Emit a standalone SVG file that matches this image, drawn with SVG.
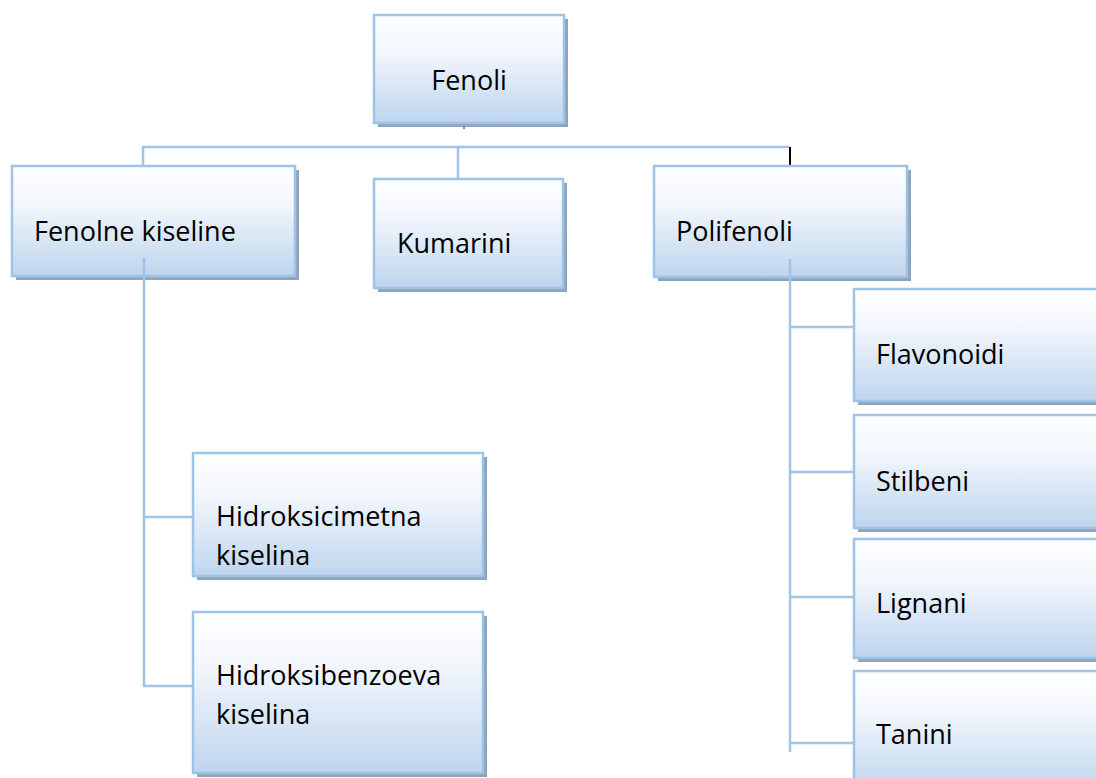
<svg xmlns="http://www.w3.org/2000/svg" width="1096" height="778" viewBox="0 0 1096 778">
<defs>
<linearGradient id="g" x1="0" y1="0" x2="0" y2="1">
<stop offset="0" stop-color="#ffffff"/>
<stop offset="0.35" stop-color="#f2f6fc"/>
<stop offset="1" stop-color="#bed5ee"/>
</linearGradient>
<style>
.sh{fill:#8fa4bb}
.bx{fill:url(#g);stroke:#9dc3e6;stroke-width:2.5}
.t{font-family:"Open Sans","Noto Sans",sans-serif;font-size:27px;fill:#000}
.c{stroke:#9fc4e7;stroke-width:2.5;fill:none}
</style>
</defs>
<rect width="1096" height="778" fill="#fff"/>
<g id="connectors">
<path class="c" d="M143,147 H790 M143,146 V166 M458,147 V179"/>
<path d="M790,147 V166" stroke="#000" stroke-width="2"/>
<path d="M464,124 V129" stroke="#6a8cb5" stroke-width="2"/>
</g>
<g id="n-fenoli">
<rect class="sh" x="378" y="19" width="190" height="108"/>
<rect class="bx" x="374" y="15" width="190" height="108"/>
<text class="t" x="469" y="90" text-anchor="middle">Fenoli</text>
</g>
<g id="n-fenolne">
<rect class="sh" x="16" y="170" width="283" height="110"/>
<rect class="bx" x="12" y="166" width="283" height="110"/>
<text class="t" x="34" y="241">Fenolne kiseline</text>
</g>
<g id="n-kumarini">
<rect class="sh" x="378" y="183" width="189" height="109"/>
<rect class="bx" x="374" y="179" width="189" height="109"/>
<text class="t" x="397" y="253">Kumarini</text>
</g>
<g id="n-polifenoli">
<rect class="sh" x="658" y="170" width="253" height="111"/>
<rect class="bx" x="654" y="166" width="253" height="111"/>
<text class="t" x="676" y="241">Polifenoli</text>
</g>
<g id="connectors2">
<path class="c" d="M144,258 V687 M143,517 H193 M143,686 H193"/>
<path class="c" d="M790,259 V752 M789,327 H854 M789,472 H854 M789,597 H854 M789,743 H854"/>
</g>
<g id="n-hidroksicimetna">
<rect class="sh" x="197" y="457" width="290" height="123"/>
<rect class="bx" x="193" y="453" width="290" height="123"/>
<text class="t" x="216" y="526">Hidroksicimetna</text>
<text class="t" x="216" y="565">kiselina</text>
</g>
<g id="n-hidroksibenzoeva">
<rect class="sh" x="197" y="616" width="290" height="161"/>
<rect class="bx" x="193" y="612" width="290" height="161"/>
<text class="t" x="216" y="685">Hidroksibenzoeva</text>
<text class="t" x="216" y="724">kiselina</text>
</g>
<g id="n-flavonoidi">
<rect class="sh" x="858" y="293" width="250" height="112"/>
<rect class="bx" x="854" y="289" width="250" height="112"/>
<text class="t" x="876" y="364">Flavonoidi</text>
</g>
<g id="n-stilbeni">
<rect class="sh" x="858" y="419" width="250" height="113"/>
<rect class="bx" x="854" y="415" width="250" height="113"/>
<text class="t" x="876" y="491">Stilbeni</text>
</g>
<g id="n-lignani">
<rect class="sh" x="858" y="543" width="250" height="119"/>
<rect class="bx" x="854" y="539" width="250" height="119"/>
<text class="t" x="876" y="613">Lignani</text>
</g>
<g id="n-tanini">
<rect class="sh" x="858" y="675" width="250" height="120"/>
<rect class="bx" x="854" y="671" width="250" height="120"/>
<text class="t" x="876" y="744">Tanini</text>
</g>
</svg>
